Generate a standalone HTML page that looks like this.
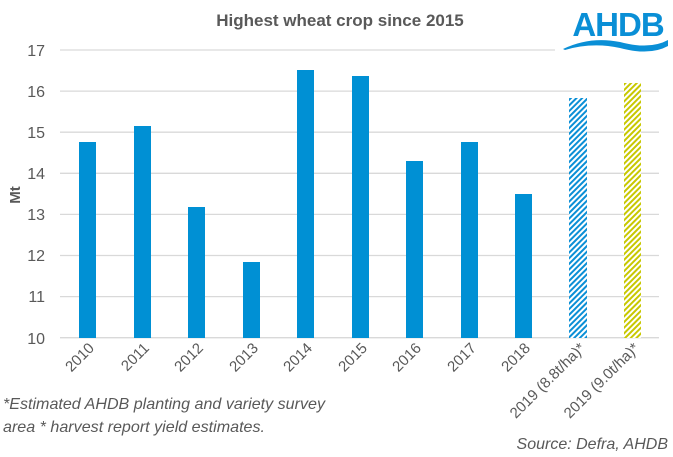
<!DOCTYPE html>
<html><head><meta charset="utf-8"><style>body{margin:0;background:#fff}svg{display:block}</style></head><body>
<svg width="673" height="457" xmlns="http://www.w3.org/2000/svg" font-family="Liberation Sans, Arial, sans-serif">
<defs>
<pattern id="pb" width="4" height="4" patternUnits="userSpaceOnUse" patternTransform="rotate(45)"><rect width="4" height="4" fill="#fff"/><rect width="2" height="4" fill="#0a8fd6"/></pattern>
<pattern id="py" width="4" height="4" patternUnits="userSpaceOnUse" patternTransform="rotate(45)"><rect width="4" height="4" fill="#fff"/><rect width="2" height="4" fill="#c8c800"/></pattern>
</defs>
<text x="340" y="26" text-anchor="middle" font-size="17" font-weight="bold" fill="#595959">Highest wheat crop since 2015</text>
<g stroke="#d9d9d9" stroke-width="1.3">
<line x1="60" x2="555" y1="50" y2="50"/>
<line x1="60" x2="659" y1="91.1" y2="91.1"/><line x1="60" x2="659" y1="132.2" y2="132.2"/><line x1="60" x2="659" y1="173.3" y2="173.3"/><line x1="60" x2="659" y1="214.4" y2="214.4"/><line x1="60" x2="659" y1="255.5" y2="255.5"/><line x1="60" x2="659" y1="296.6" y2="296.6"/><line x1="60" x2="659" y1="337.7" y2="337.7"/>
</g>
<g font-size="16" fill="#595959" text-anchor="end">
<text x="45" y="56">17</text><text x="45" y="97">16</text><text x="45" y="138">15</text><text x="45" y="179">14</text><text x="45" y="220">13</text><text x="45" y="261">12</text><text x="45" y="302">11</text><text x="45" y="344">10</text>
</g>
<text transform="translate(20,195) rotate(-90)" text-anchor="middle" font-size="15" font-weight="bold" fill="#595959">Mt</text>
<g fill="#0090d4">
<rect x="79" y="142" width="17" height="196"/>
<rect x="134" y="126" width="17" height="212"/>
<rect x="188" y="207" width="17" height="131"/>
<rect x="243" y="262" width="17" height="76"/>
<rect x="297" y="70" width="17" height="268"/>
<rect x="352" y="76" width="17" height="262"/>
<rect x="406" y="161" width="17" height="177"/>
<rect x="461" y="142" width="17" height="196"/>
<rect x="515" y="194" width="17" height="144"/>
</g>
<rect x="569" y="98" width="18" height="240" fill="url(#pb)"/>
<rect x="624" y="83" width="17" height="255" fill="url(#py)"/>
<g font-size="15" fill="#595959" text-anchor="end">
<text transform="translate(95,349) rotate(-45)">2010</text>
<text transform="translate(150,349) rotate(-45)">2011</text>
<text transform="translate(204,349) rotate(-45)">2012</text>
<text transform="translate(259,349) rotate(-45)">2013</text>
<text transform="translate(313,349) rotate(-45)">2014</text>
<text transform="translate(368,349) rotate(-45)">2015</text>
<text transform="translate(422,349) rotate(-45)">2016</text>
<text transform="translate(477,349) rotate(-45)">2017</text>
<text transform="translate(531,349) rotate(-45)">2018</text>
<text transform="translate(586,349) rotate(-45)">2019 (8.8t/ha)*</text>
<text transform="translate(640,349) rotate(-45)">2019 (9.0t/ha)*</text>
</g>
<g font-size="16" font-style="italic" fill="#595959">
<text x="3" y="409" textLength="322" lengthAdjust="spacingAndGlyphs">*Estimated AHDB planting and variety survey</text>
<text x="3" y="432" textLength="262" lengthAdjust="spacingAndGlyphs">area * harvest report yield estimates.</text>
<text x="668" y="449" text-anchor="end">Source: Defra, AHDB</text>
</g>
<text x="618" y="36" text-anchor="middle" font-size="33" font-weight="bold" fill="#0a8fd6" letter-spacing="-1">AHDB</text>
<path d="M563 49 Q590 36 620 42 Q650 50 668 40 L668 46 Q650 56 620 48 Q592 42 565 50 Z" fill="#0a8fd6"/>
</svg>
</body></html>
